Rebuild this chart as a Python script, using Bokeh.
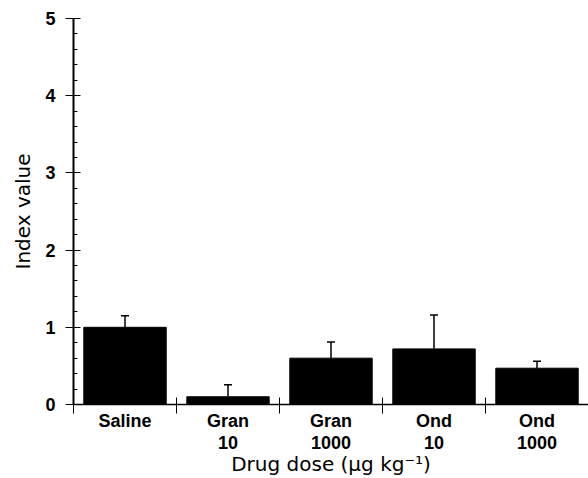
from bokeh.plotting import figure
from bokeh.models import ColumnDataSource, Whisker, TeeHead, FixedTicker, SingleIntervalTicker, Range1d
from bokeh.embed import file_html
from bokeh.resources import INLINE

categories = ["Saline", "Gran\n10", "Gran\n1000", "Ond\n10", "Ond\n1000"]
values = [1.00, 0.10, 0.60, 0.72, 0.47]
errors = [0.15, 0.155, 0.21, 0.44, 0.09]
y_ticks = [0, 1, 2, 3, 4, 5]

xs = [i + 0.5 for i in range(len(categories))]
src = ColumnDataSource(dict(
    x=xs, top=values,
    upper=[v + e for v, e in zip(values, errors)],
))

p = figure(width=588, height=478, output_backend="svg", toolbar_location=None,
           x_range=Range1d(0, len(categories)), y_range=Range1d(0, 5),
           min_border_left=73, min_border_right=0, min_border_top=18, min_border_bottom=74)
p.outline_line_color = None
p.xgrid.visible = False
p.ygrid.visible = False

p.vbar(x="x", top="top", width=0.8, bottom=0, source=src, fill_color="black", line_color="black")
w = Whisker(base="x", lower="top", upper="upper", source=src,
            upper_head=TeeHead(size=8, line_color="black", line_width=1.5),
            lower_head=None, line_color="black", line_width=1.5)
p.add_layout(w)

label_font = "Liberation Sans"
title_font = "DejaVu Sans"

# y axis
ya = p.yaxis[0]
ya.ticker = SingleIntervalTicker(interval=1, num_minor_ticks=5)
ya.axis_line_width = 2
ya.major_tick_in = 7
ya.major_tick_out = 8
ya.minor_tick_in = 4
ya.minor_tick_out = 0
ya.major_label_text_font = label_font
ya.major_label_text_font_style = "bold"
ya.major_label_text_font_size = "18px"
ya.major_label_text_color = "black"
ya.major_label_standoff = 10
ya.axis_label = "Index value"
ya.axis_label_text_font = title_font
ya.axis_label_text_font_style = "normal"
ya.axis_label_text_font_size = "20px"
ya.axis_label_text_color = "black"
ya.axis_label_standoff = 7

# x axis
xa = p.xaxis[0]
xa.ticker = FixedTicker(ticks=xs, minor_ticks=list(range(len(categories) + 1)))
xa.major_label_overrides = {x: c for x, c in zip(xs, categories)}
xa.axis_line_width = 1.5
xa.major_tick_in = 0
xa.major_tick_out = 0
xa.minor_tick_in = 7
xa.minor_tick_out = 9
xa.major_label_text_font = label_font
xa.major_label_text_font_style = "bold"
xa.major_label_text_font_size = "18px"
xa.major_label_text_color = "black"
xa.major_label_text_line_height = 1.1
xa.major_label_standoff = -3
xa.axis_label = "Drug dose (\u00b5g kg\u207b\u00b9)"
xa.axis_label_text_font = title_font
xa.axis_label_text_font_style = "normal"
xa.axis_label_text_font_size = "20px"
xa.axis_label_text_color = "black"
xa.axis_label_standoff = -4

open("out.html", "w").write(file_html(p, INLINE))
